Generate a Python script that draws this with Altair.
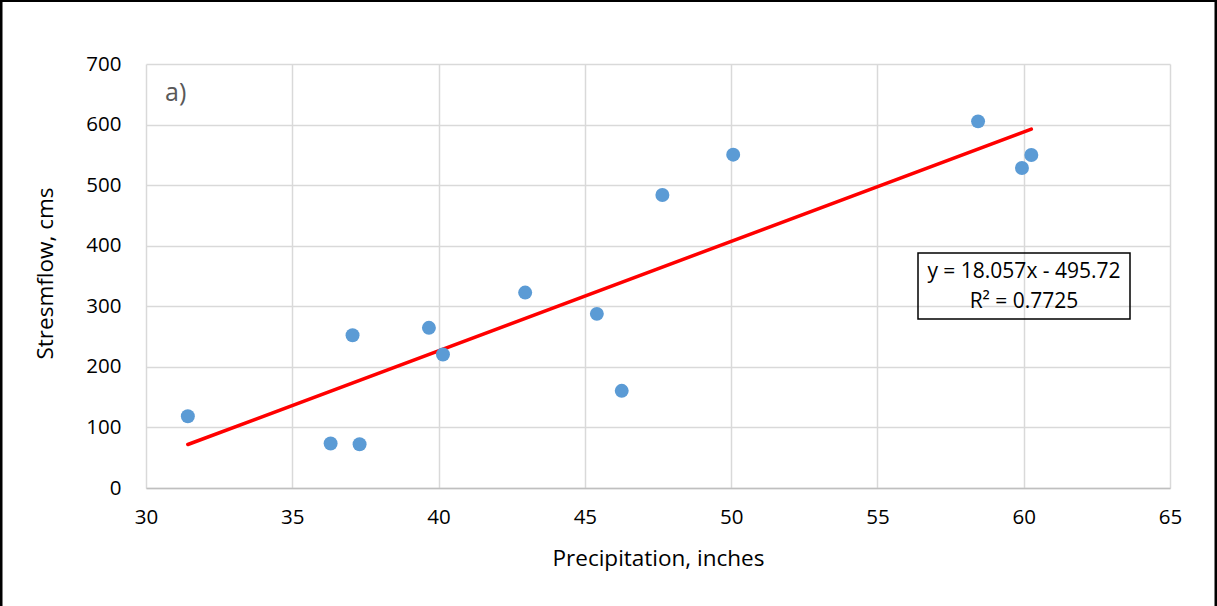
import altair as alt
import pandas as pd

# Annual precipitation (inches) and mean streamflow (cms)
precip = [31.43, 36.31, 37.30, 37.06, 39.67, 40.15, 42.96, 45.41, 46.26,
          47.65, 50.07, 58.44, 59.94, 60.26]
flow = [118.5, 73.4, 72.3, 252.1, 264.4, 220.3, 322.6, 287.5, 160.4,
        483.8, 550.3, 605.3, 528.4, 549.8]

# Linear trendline fit reported on the chart
slope = 18.057
intercept = -495.72
r_squared = 0.7725

x_ticks = [30, 35, 40, 45, 50, 55, 60, 65]
y_ticks = [0, 100, 200, 300, 400, 500, 600, 700]

FONT = "Open Sans"
LABEL_SIZE = 20.5
TITLE_SIZE = 22.5
W, H = 1024, 424
PAD = {"left": 146, "top": 64, "right": 47, "bottom": 118}

points = pd.DataFrame({"precip": precip, "flow": flow})
x_end = [min(precip), max(precip)]
trend = pd.DataFrame({"precip": x_end,
                      "flow": [slope * v + intercept for v in x_end]})

x_enc = alt.X(
    "precip:Q",
    scale=alt.Scale(domain=[30, 65], nice=False, zero=False),
    axis=alt.Axis(
        values=x_ticks, title="Precipitation, inches", grid=True,
        gridColor="#d9d9d9", gridWidth=1.5, domainColor="#bfbfbf", domainWidth=1.5,
        ticks=False, labelFlush=False, labelOverlap=False,
        labelFontSize=LABEL_SIZE, labelFont=FONT, labelColor="#000000",
        labelPadding=19, titleFont=FONT, titleFontSize=TITLE_SIZE,
        titleFontWeight="normal", titleColor="#000000",
        titleBaseline="middle", titleY=70,
    ),
)
y_enc = alt.Y(
    "flow:Q",
    scale=alt.Scale(domain=[0, 700], nice=False),
    axis=alt.Axis(
        values=y_ticks, title="Stresmflow, cms", grid=True,
        gridColor="#d9d9d9", gridWidth=1.5, domain=False, ticks=False,
        labelFlush=False, labelOverlap=False,
        labelFontSize=LABEL_SIZE, labelFont=FONT, labelColor="#000000",
        labelPadding=25, titleFont=FONT, titleFontSize=TITLE_SIZE,
        titleFontWeight="normal", titleColor="#000000",
        titleBaseline="middle", titleX=-101, titleY=H / 2 - 3,
    ),
)

scatter = alt.Chart(points).mark_circle(
    size=195, color="#5b9bd5", opacity=1
).encode(x=x_enc, y=y_enc)

line = alt.Chart(trend).mark_line(
    color="#ff0000", strokeWidth=3.5, strokeCap="round"
).encode(x="precip:Q", y="flow:Q")


def note(text, x, y, size=21, color="#000000", align="center"):
    """A single line of text placed in plot-area pixels."""
    return alt.Chart(pd.DataFrame({"t": [text]})).mark_text(
        align=align, baseline="middle", font=FONT, fontSize=size, color=color
    ).encode(x=alt.value(x), y=alt.value(y), text="t:N")


panel_label = note("a)", 19, 29, size=25, color="#595959", align="left")

eq_box = alt.Chart(pd.DataFrame({"k": [0]})).mark_rect(
    fill=None, fillOpacity=0, stroke="#000000", strokeWidth=1.5
).encode(x=alt.value(772), x2=alt.value(984), y=alt.value(189), y2=alt.value(255))

eq_line1 = note(f"y = {slope}x - {abs(intercept)}", 878, 208)
eq_line2 = note(f"R² = {r_squared}", 878, 238)

frame = alt.Chart(pd.DataFrame({"k": [0]})).mark_rect(
    fill=None, fillOpacity=0, stroke="#000000", strokeWidth=3
).encode(x=alt.value(-145), x2=alt.value(1070), y=alt.value(-63.5), y2=alt.value(560))

chart = alt.layer(
    line, scatter, panel_label, eq_box, eq_line1, eq_line2, frame
).properties(
    width=W, height=H, padding=PAD,
    autosize=alt.AutoSizeParams(type="none"),
    background="#ffffff",
).configure_view(stroke=None)

chart.save("out.html", embed_options={"renderer": "svg", "actions": False})
